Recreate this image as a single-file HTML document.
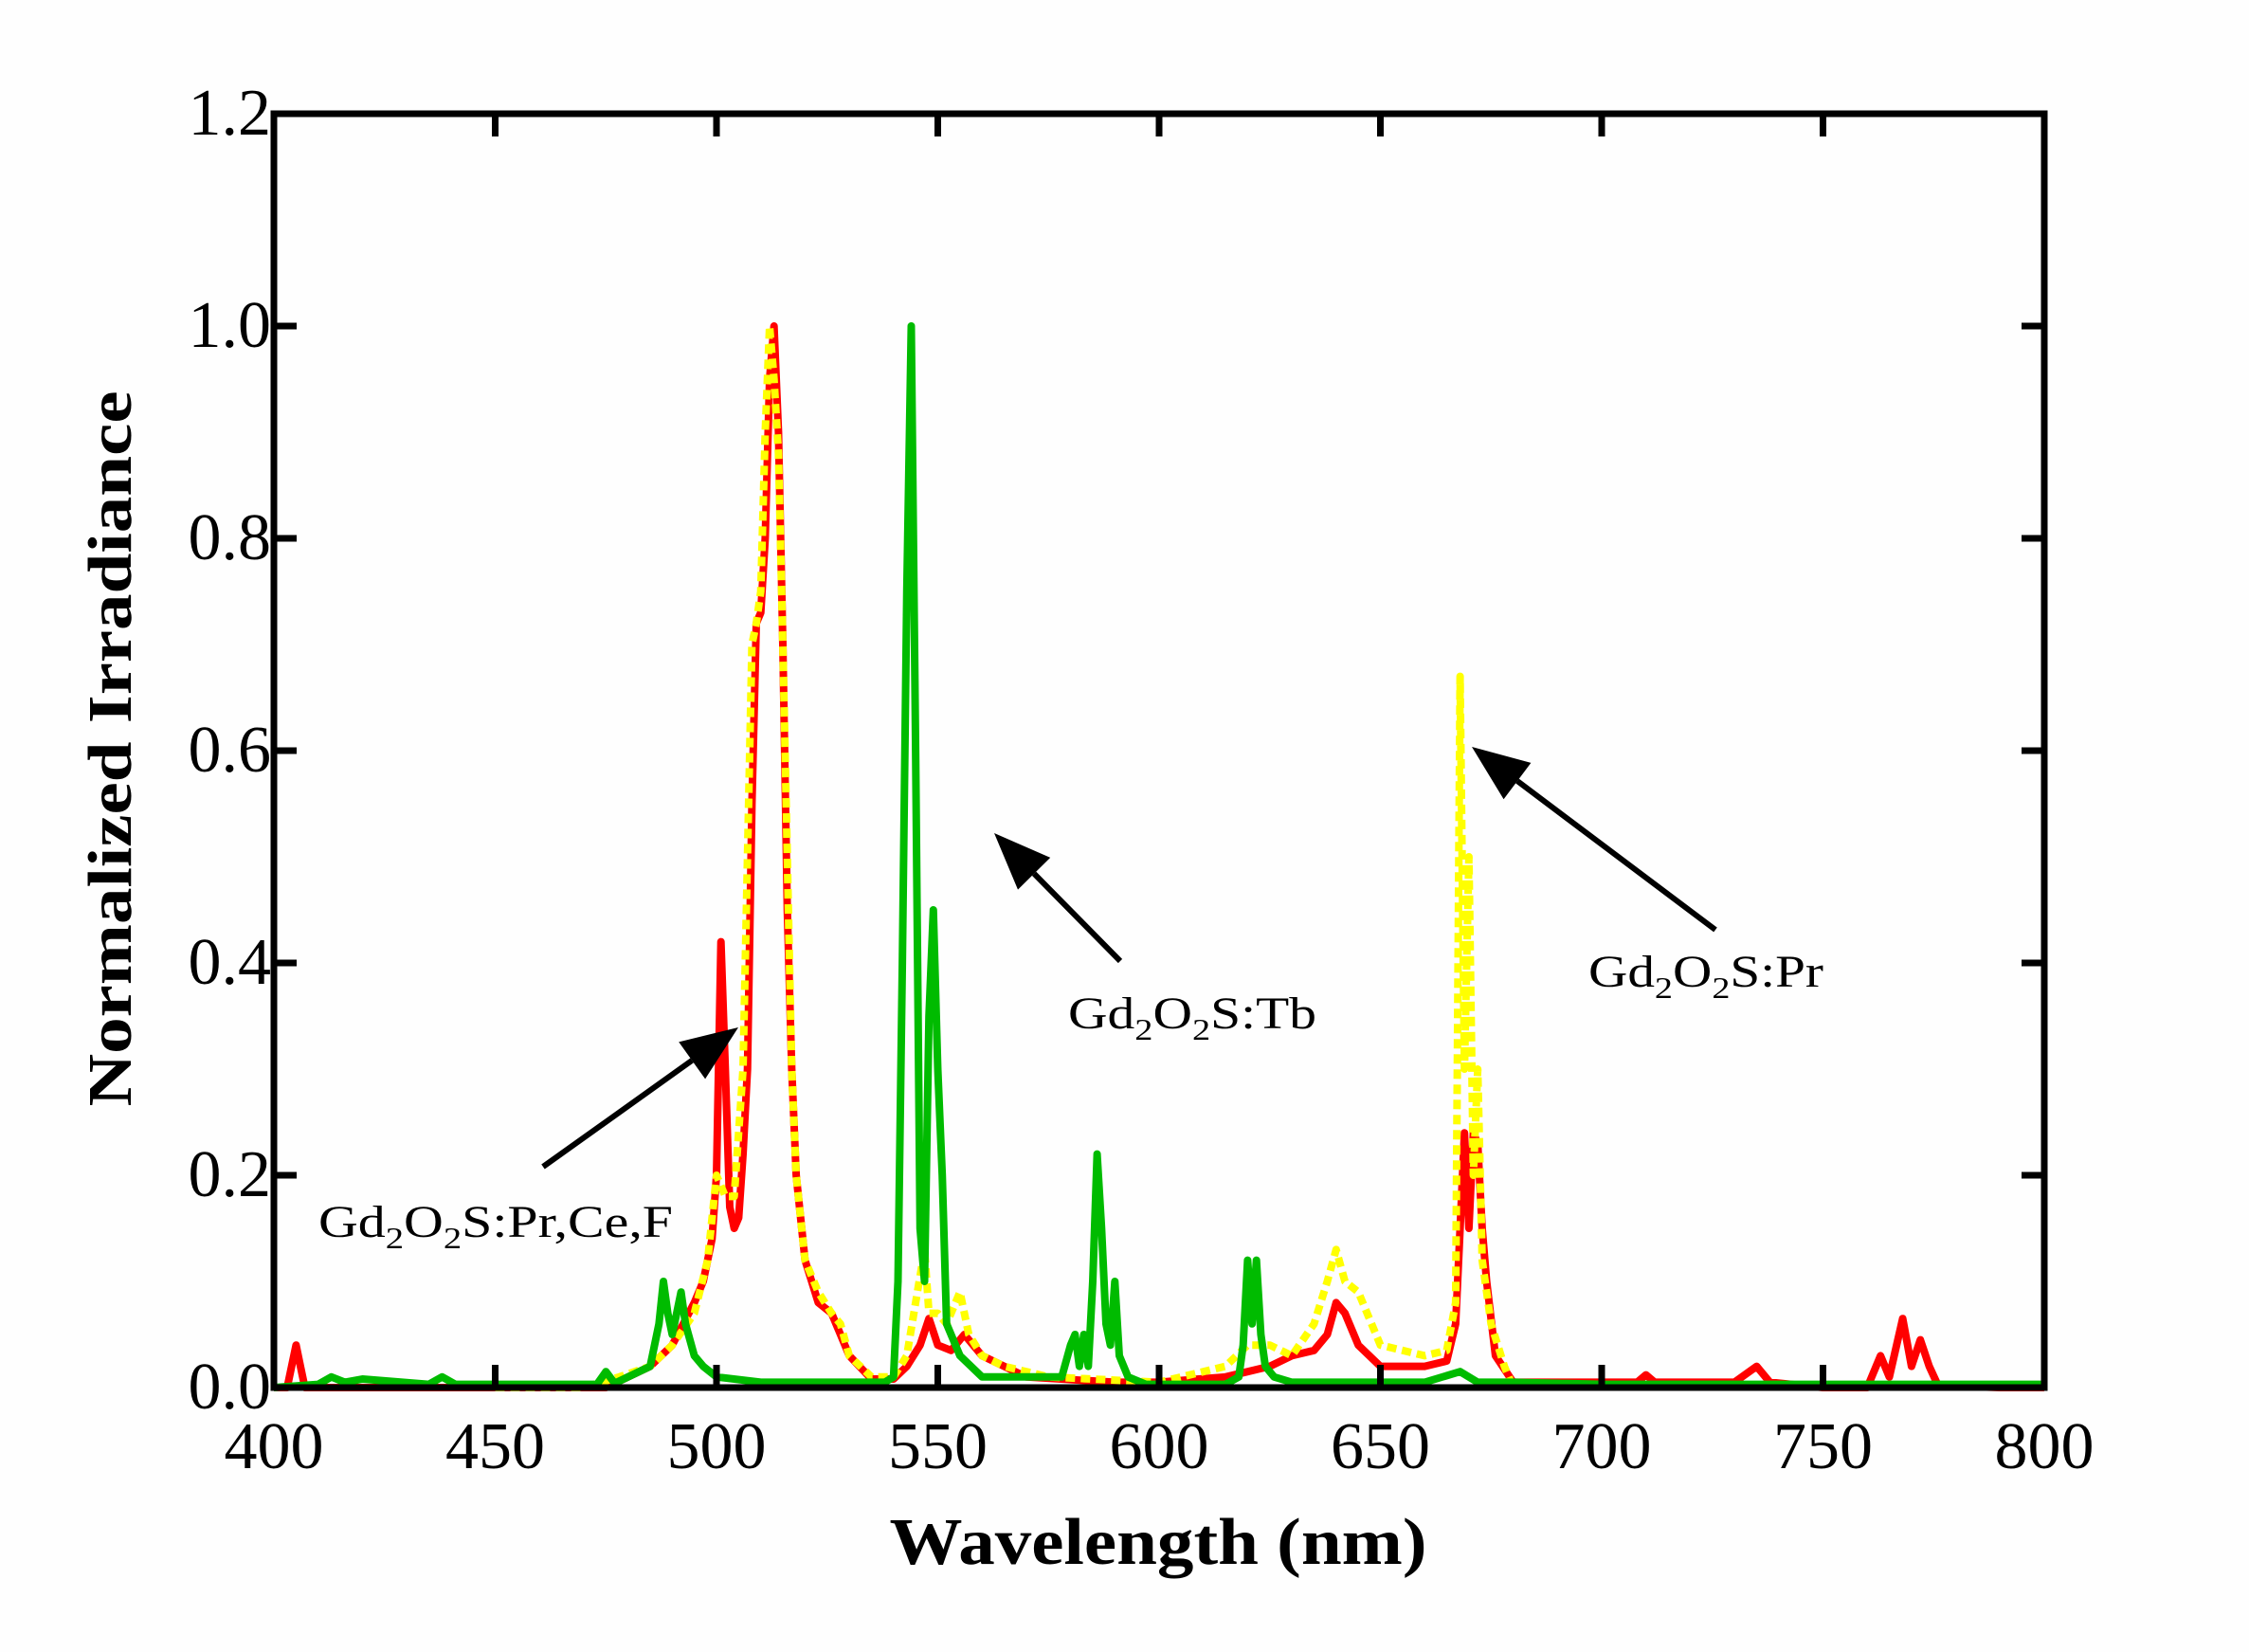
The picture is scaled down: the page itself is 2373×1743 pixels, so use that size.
<!DOCTYPE html>
<html><head><meta charset="utf-8"><style>
html,body{margin:0;padding:0;background:#fff;}
svg{display:block;font-family:"Liberation Serif",serif;}
</style></head><body>
<svg id="chart" width="2373" height="1743" viewBox="0 0 2373 1743" xmlns="http://www.w3.org/2000/svg">
<rect x="0" y="0" width="2373" height="1743" fill="#fefefe"/>
<g id="series"></g>
<g id="axes"></g>
<text transform="translate(138,790) rotate(-90)" text-anchor="middle" font-weight="bold" font-size="66" textLength="755" lengthAdjust="spacingAndGlyphs">Normalized Irradiance</text>
<text x="1222" y="1650" text-anchor="middle" font-weight="bold" font-size="70" textLength="567" lengthAdjust="spacingAndGlyphs">Wavelength (nm)</text>
<g font-size="48">
<text x="336" y="1305" textLength="374" lengthAdjust="spacingAndGlyphs">Gd<tspan font-size="32" dy="12">2</tspan><tspan dy="-12">O</tspan><tspan font-size="32" dy="12">2</tspan><tspan dy="-12">S:Pr,Ce,F</tspan></text>
<text x="1127" y="1085" textLength="262" lengthAdjust="spacingAndGlyphs">Gd<tspan font-size="32" dy="12">2</tspan><tspan dy="-12">O</tspan><tspan font-size="32" dy="12">2</tspan><tspan dy="-12">S:Tb</tspan></text>
<text x="1676" y="1041" textLength="248" lengthAdjust="spacingAndGlyphs">Gd<tspan font-size="32" dy="12">2</tspan><tspan dy="-12">O</tspan><tspan font-size="32" dy="12">2</tspan><tspan dy="-12">S:Pr</tspan></text>
</g>
<g id="arrows"></g>
</svg>
<script>
const xTicks=[400,450,500,550,600,650,700,750,800];
const yTicks=[0.0,0.2,0.4,0.6,0.8,1.0,1.2];
const yTickLabels=["0.0","0.2","0.4","0.6","0.8","1.0","1.2"];
const redWl=[400,403,404,405,406,407,410,420,440,460,475,480,485,490,495,497,499,500,501,502,503,504,505,506,507,508,509,510,511,512,513,514,515,516,517,518,520,523,526,528,530,535,540,543,546,548,550,553,556,560,570,590,600,615,625,630,635,638,640,642,645,650,660,665,667,668,669,670,671,672,673,674,676,680,700,708,710,712,730,735,738,750,760,763,765,768,770,772,774,776,790,800];
const redVal=[0,0,0.02,0.04,0.02,0,0,0,0,0,0,0.01,0.02,0.04,0.08,0.1,0.14,0.2,0.42,0.3,0.17,0.15,0.16,0.22,0.3,0.55,0.72,0.73,0.8,0.95,1.0,0.9,0.7,0.45,0.3,0.2,0.12,0.08,0.07,0.05,0.03,0.008,0.008,0.02,0.04,0.065,0.04,0.035,0.05,0.03,0.01,0.005,0.005,0.01,0.02,0.03,0.035,0.05,0.08,0.07,0.04,0.02,0.02,0.025,0.06,0.15,0.24,0.15,0.24,0.23,0.15,0.1,0.03,0.005,0.005,0.005,0.012,0.005,0.005,0.02,0.005,0,0,0.03,0.01,0.065,0.02,0.045,0.02,0.002,0,0];
const yelWl=[450,470,478,485,490,495,498,500,502,504,506,507,508,509,510,511,512,513,514,515,516,517,518,520,523,526,528,530,535,540,543,545,547,548,550,552,555,557,560,565,575,600,615,620,625,630,635,638,640,642,645,648,650,660,665,667,668,669,670,671,672,673,675,678,680];
const yelVal=[0,0,0.01,0.02,0.04,0.07,0.12,0.2,0.18,0.18,0.3,0.5,0.7,0.72,0.75,0.9,1.0,0.95,0.88,0.7,0.5,0.3,0.2,0.12,0.09,0.07,0.06,0.03,0.01,0.01,0.03,0.08,0.13,0.07,0.07,0.06,0.09,0.05,0.03,0.02,0.01,0.005,0.02,0.04,0.04,0.03,0.06,0.1,0.13,0.1,0.09,0.06,0.04,0.03,0.035,0.08,0.67,0.3,0.5,0.2,0.3,0.12,0.06,0.02,0];
const grnWl=[400,410,413,416,420,435,438,441,460,473,475,477,485,487,488,489,490,491,492,493,495,497,500,510,538,540,541,542,543,544,545,546,547,548,549,550,551,552,555,560,578,580,581,582,583,584,585,586,587,588,589,590,591,593,597,615,618,619,620,621,622,623,624,626,630,660,668,670,672,680,700,800];
const grnVal=[0,0.003,0.01,0.005,0.008,0.003,0.01,0.003,0.003,0.003,0.015,0.004,0.02,0.06,0.1,0.07,0.05,0.07,0.09,0.06,0.03,0.02,0.01,0.005,0.005,0.01,0.1,0.4,0.75,1.0,0.6,0.15,0.1,0.35,0.45,0.3,0.2,0.06,0.03,0.01,0.01,0.04,0.05,0.02,0.05,0.02,0.1,0.22,0.15,0.06,0.04,0.1,0.03,0.01,0.003,0.003,0.01,0.04,0.12,0.06,0.12,0.05,0.02,0.01,0.005,0.005,0.015,0.01,0.005,0.005,0.003,0.003];

const X0=289,X1=2157,Y0=1464,Y1=120;
function sx(w){return X0+(w-400)/400*(X1-X0);}
function sy(v){return Y0-v/1.2*(Y0-Y1);}
const NS="http://www.w3.org/2000/svg";
const series=document.getElementById('series');
function drawLine(wl,val,color,dash,name){
  const p=document.createElementNS(NS,'path');
  let d='';
  for(let i=0;i<wl.length;i++){d+=(i?'L':'M')+sx(wl[i]).toFixed(1)+' '+sy(val[i]).toFixed(1);}
  p.setAttribute('d',d);
  p.setAttribute('fill','none');
  p.setAttribute('stroke',color);
  p.setAttribute('stroke-width','8');
  p.setAttribute('stroke-linejoin','round');
  if(dash)p.setAttribute('stroke-dasharray',dash);
  
  
  series.appendChild(p);
}
drawLine(redWl,redVal,'#ff0000',null,'series-pr-ce-f');
drawLine(yelWl,yelVal,'#ffff00','10 6','series-pr');
drawLine(grnWl,grnVal,'#00bb00',null,'series-tb');

const axes=document.getElementById('axes');
const frame=document.createElementNS(NS,'rect');
frame.setAttribute('x',X0);frame.setAttribute('y',Y1);
frame.setAttribute('width',X1-X0);frame.setAttribute('height',Y0-Y1);
frame.setAttribute('fill','none');frame.setAttribute('stroke','#000');frame.setAttribute('stroke-width','7');


axes.appendChild(frame);
function line(x1,y1,x2,y2,name){
  const l=document.createElementNS(NS,'line');
  l.setAttribute('x1',x1);l.setAttribute('y1',y1);l.setAttribute('x2',x2);l.setAttribute('y2',y2);
  l.setAttribute('stroke','#000');l.setAttribute('stroke-width','7');
  
  
  axes.appendChild(l);
}
function text(x,y,s,anchor,name){
  const t=document.createElementNS(NS,'text');
  t.setAttribute('x',x);t.setAttribute('y',y);t.setAttribute('text-anchor',anchor);
  t.setAttribute('font-size','70');
  t.textContent=s;
  
  
  axes.appendChild(t);
}
xTicks.forEach(w=>{
  const x=sx(w);
  line(x,Y0,x,Y0-24,'x-tick');
  line(x,Y1,x,Y1+24,'x-tick-top');
  text(x,1549,String(w),'middle','x-tick-label');
});
yTicks.forEach((v,i)=>{
  const y=sy(v);
  line(X0,y,X0+24,y,'y-tick');
  line(X1,y,X1-24,y,'y-tick-right');
  text(286,y+22,yTickLabels[i],'end','y-tick-label');
});

const arrows=document.getElementById('arrows');
function arrow(x1,y1,x2,y2,name){
  const g=document.createElementNS(NS,'g');
  
  
  const ang=Math.atan2(y2-y1,x2-x1),L=60,W=24;
  const bx=x2-L*Math.cos(ang),by=y2-L*Math.sin(ang);
  const l=document.createElementNS(NS,'line');
  l.setAttribute('x1',x1);l.setAttribute('y1',y1);l.setAttribute('x2',bx);l.setAttribute('y2',by);
  l.setAttribute('stroke','#000');l.setAttribute('stroke-width','6');
  g.appendChild(l);
  const p=document.createElementNS(NS,'polygon');
  const px=-Math.sin(ang)*W,py=Math.cos(ang)*W;
  p.setAttribute('points',`${x2},${y2} ${bx+px},${by+py} ${bx-px},${by-py}`);
  p.setAttribute('fill','#000');
  g.appendChild(p);
  arrows.appendChild(g);
}
arrow(573,1231,779,1084,'arrow-pr-ce-f');
arrow(1182,1014,1049,879,'arrow-tb');
arrow(1810,981,1553,788,'arrow-pr');
</script>
</body></html>
